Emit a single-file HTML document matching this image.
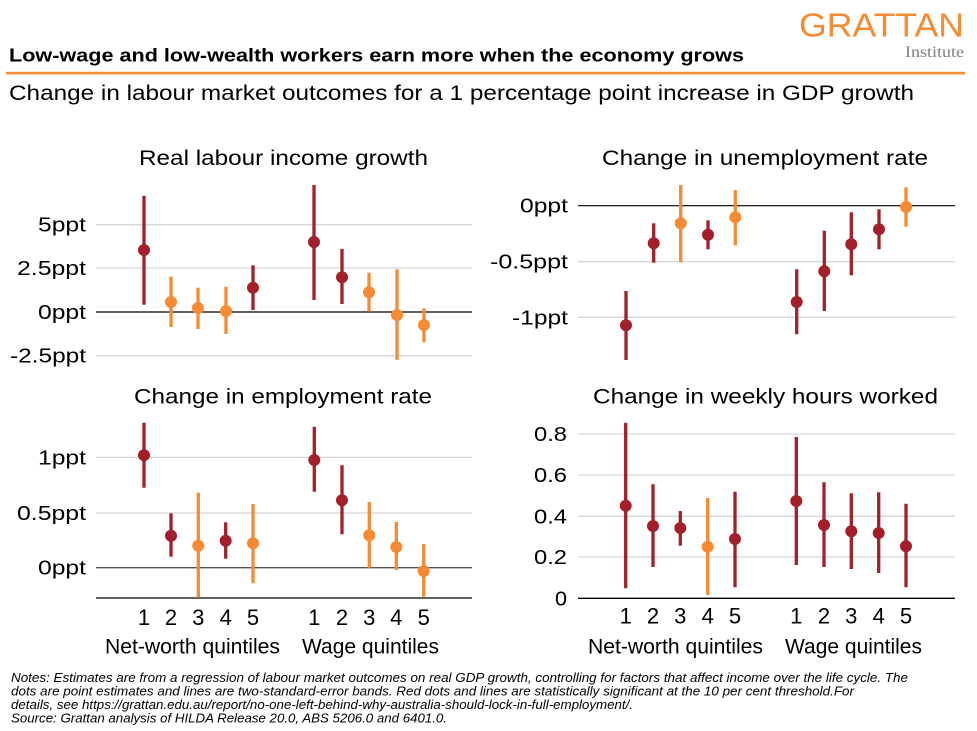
<!DOCTYPE html>
<html>
<head>
<meta charset="utf-8">
<style>
html,body{margin:0;padding:0;background:#fff;}
svg{display:block;}
text{font-family:"Liberation Sans",Arial,sans-serif;fill:#000;}
</style>
</head>
<body>
<svg width="977" height="731" viewBox="0 0 977 731" xmlns="http://www.w3.org/2000/svg">
<rect x="0" y="0" width="977" height="731" fill="#fff"/>

<!-- Header -->
<text x="799" y="36.7" font-size="33" fill="#F68B33" style="fill:#F68B33" textLength="165" lengthAdjust="spacingAndGlyphs">GRATTAN</text>
<text x="905" y="57" font-size="15.5" style="font-family:'Liberation Serif',serif;fill:#7f7f7f" textLength="59" lengthAdjust="spacingAndGlyphs">Institute</text>
<text x="9" y="61.5" font-size="18.5" font-weight="bold" textLength="735" lengthAdjust="spacingAndGlyphs">Low-wage  and low-wealth  workers earn more when the economy grows</text>
<rect x="6" y="71.8" width="959" height="2.6" fill="#F68B33"/>
<text x="9" y="100" font-size="21.5" textLength="905" lengthAdjust="spacingAndGlyphs">Change in labour market outcomes for a 1 percentage point increase in GDP growth</text>

<!-- Panel titles -->
<text x="139" y="165" font-size="21.5" textLength="289" lengthAdjust="spacingAndGlyphs">Real labour income growth</text>
<text x="602" y="165" font-size="21.5" textLength="326" lengthAdjust="spacingAndGlyphs">Change in unemployment rate</text>
<text x="134" y="403.5" font-size="21.5" textLength="298" lengthAdjust="spacingAndGlyphs">Change in employment rate</text>
<text x="593" y="403.5" font-size="21.5" textLength="345" lengthAdjust="spacingAndGlyphs">Change in weekly hours worked</text>

<!-- ============ TOP LEFT ============ -->
<g>
<line x1="96" x2="472" y1="224.7" y2="224.7" stroke="#D3D6DB" stroke-width="1.3"/>
<line x1="96" x2="472" y1="268" y2="268" stroke="#D3D6DB" stroke-width="1.3"/>
<line x1="96" x2="472" y1="355.7" y2="355.7" stroke="#D3D6DB" stroke-width="1.3"/>
<line x1="96" x2="472" y1="312" y2="312" stroke="#000" stroke-width="1.2"/>
<text x="86" y="231.7" font-size="20" text-anchor="end" textLength="48" lengthAdjust="spacingAndGlyphs">5ppt</text>
<text x="86" y="275" font-size="20" text-anchor="end" textLength="69" lengthAdjust="spacingAndGlyphs">2.5ppt</text>
<text x="86" y="319" font-size="20" text-anchor="end" textLength="48" lengthAdjust="spacingAndGlyphs">0ppt</text>
<text x="86" y="362.7" font-size="20" text-anchor="end" textLength="76" lengthAdjust="spacingAndGlyphs">-2.5ppt</text>
</g>
<g stroke-width="3.3">
<line x1="144" x2="144" y1="195.7" y2="304.7" stroke="#A3202A"/><circle cx="144" cy="250" r="6" fill="#A3202A"/>
<line x1="171" x2="171" y1="276.7" y2="327" stroke="#F68B33"/><circle cx="171" cy="302" r="6" fill="#F68B33"/>
<line x1="198" x2="198" y1="287.7" y2="329" stroke="#F68B33"/><circle cx="198" cy="308" r="6" fill="#F68B33"/>
<line x1="226" x2="226" y1="286.7" y2="334" stroke="#F68B33"/><circle cx="226" cy="311" r="6" fill="#F68B33"/>
<line x1="253" x2="253" y1="265.3" y2="310" stroke="#A3202A"/><circle cx="253" cy="287.7" r="6" fill="#A3202A"/>
<line x1="314" x2="314" y1="185" y2="300" stroke="#A3202A"/><circle cx="314" cy="242" r="6" fill="#A3202A"/>
<line x1="342" x2="342" y1="249" y2="304" stroke="#A3202A"/><circle cx="342" cy="277.3" r="6" fill="#A3202A"/>
<line x1="369" x2="369" y1="272.7" y2="311.7" stroke="#F68B33"/><circle cx="369" cy="292.3" r="6" fill="#F68B33"/>
<line x1="397" x2="397" y1="269.3" y2="359.7" stroke="#F68B33"/><circle cx="397" cy="315" r="6" fill="#F68B33"/>
<line x1="424" x2="424" y1="308.3" y2="342.3" stroke="#F68B33"/><circle cx="424" cy="325" r="6" fill="#F68B33"/>
</g>

<!-- ============ TOP RIGHT ============ -->
<g>
<line x1="578" x2="955" y1="261.7" y2="261.7" stroke="#D3D6DB" stroke-width="1.3"/>
<line x1="578" x2="955" y1="317.3" y2="317.3" stroke="#D3D6DB" stroke-width="1.3"/>
<line x1="578" x2="955" y1="205.7" y2="205.7" stroke="#000" stroke-width="1.2"/>
<text x="568" y="212.7" font-size="20" text-anchor="end" textLength="48" lengthAdjust="spacingAndGlyphs">0ppt</text>
<text x="568" y="268.7" font-size="20" text-anchor="end" textLength="78" lengthAdjust="spacingAndGlyphs">-0.5ppt</text>
<text x="568" y="324.3" font-size="20" text-anchor="end" textLength="56" lengthAdjust="spacingAndGlyphs">-1ppt</text>
</g>
<g stroke-width="3.3">
<line x1="626" x2="626" y1="291" y2="360" stroke="#A3202A"/><circle cx="626" cy="325.3" r="6" fill="#A3202A"/>
<line x1="653.7" x2="653.7" y1="223.3" y2="262.7" stroke="#A3202A"/><circle cx="653.7" cy="243.3" r="6" fill="#A3202A"/>
<line x1="680.7" x2="680.7" y1="185" y2="262.3" stroke="#F68B33"/><circle cx="680.7" cy="223.3" r="6" fill="#F68B33"/>
<line x1="708" x2="708" y1="220.3" y2="249.3" stroke="#A3202A"/><circle cx="708" cy="234.7" r="6" fill="#A3202A"/>
<line x1="735.3" x2="735.3" y1="190" y2="245.3" stroke="#F68B33"/><circle cx="735.3" cy="217.3" r="6" fill="#F68B33"/>
<line x1="796.7" x2="796.7" y1="269.3" y2="334.3" stroke="#A3202A"/><circle cx="796.7" cy="302" r="6" fill="#A3202A"/>
<line x1="824.3" x2="824.3" y1="230.7" y2="311" stroke="#A3202A"/><circle cx="824.3" cy="271.3" r="6" fill="#A3202A"/>
<line x1="851.3" x2="851.3" y1="212.3" y2="275.3" stroke="#A3202A"/><circle cx="851.3" cy="244.3" r="6" fill="#A3202A"/>
<line x1="879" x2="879" y1="209.3" y2="249.3" stroke="#A3202A"/><circle cx="879" cy="229.3" r="6" fill="#A3202A"/>
<line x1="906" x2="906" y1="187.3" y2="226.7" stroke="#F68B33"/><circle cx="906" cy="207" r="6" fill="#F68B33"/>
</g>

<!-- ============ BOTTOM LEFT ============ -->
<g>
<line x1="96" x2="472" y1="457.3" y2="457.3" stroke="#D3D6DB" stroke-width="1.3"/>
<line x1="96" x2="472" y1="513" y2="513" stroke="#D3D6DB" stroke-width="1.3"/>
<line x1="96" x2="472" y1="567.7" y2="567.7" stroke="#555" stroke-width="1.3"/>
<line x1="96" x2="472" y1="598" y2="598" stroke="#000" stroke-width="1.3"/>
<text x="86" y="464.5" font-size="20" text-anchor="end" textLength="48" lengthAdjust="spacingAndGlyphs">1ppt</text>
<text x="86" y="520" font-size="20" text-anchor="end" textLength="69" lengthAdjust="spacingAndGlyphs">0.5ppt</text>
<text x="86" y="574.7" font-size="20" text-anchor="end" textLength="48" lengthAdjust="spacingAndGlyphs">0ppt</text>
</g>
<g stroke-width="3.3">
<line x1="144" x2="144" y1="422.7" y2="487.7" stroke="#A3202A"/><circle cx="144" cy="455.3" r="6" fill="#A3202A"/>
<line x1="171" x2="171" y1="513.3" y2="556.7" stroke="#A3202A"/><circle cx="171" cy="535.7" r="6" fill="#A3202A"/>
<line x1="198.3" x2="198.3" y1="492.7" y2="597.7" stroke="#F68B33"/><circle cx="198.3" cy="545.7" r="6" fill="#F68B33"/>
<line x1="225.7" x2="225.7" y1="522.3" y2="558.7" stroke="#A3202A"/><circle cx="225.7" cy="540.7" r="6" fill="#A3202A"/>
<line x1="253" x2="253" y1="504" y2="583.3" stroke="#F68B33"/><circle cx="253" cy="543.3" r="6" fill="#F68B33"/>
<line x1="314.3" x2="314.3" y1="426.7" y2="491.7" stroke="#A3202A"/><circle cx="314.3" cy="460" r="6" fill="#A3202A"/>
<line x1="342" x2="342" y1="465.3" y2="534.3" stroke="#A3202A"/><circle cx="342" cy="500.3" r="6" fill="#A3202A"/>
<line x1="369.3" x2="369.3" y1="502" y2="567.7" stroke="#F68B33"/><circle cx="369.3" cy="535.3" r="6" fill="#F68B33"/>
<line x1="396.3" x2="396.3" y1="522" y2="570" stroke="#F68B33"/><circle cx="396.3" cy="547" r="6" fill="#F68B33"/>
<line x1="423.7" x2="423.7" y1="544" y2="596.7" stroke="#F68B33"/><circle cx="423.7" cy="571" r="6" fill="#F68B33"/>
</g>
<g font-size="22" text-anchor="middle">
<text x="144" y="625">1</text><text x="171" y="625">2</text><text x="198.3" y="625">3</text><text x="225.7" y="625">4</text><text x="253" y="625">5</text>
<text x="314.3" y="625">1</text><text x="342" y="625">2</text><text x="369.3" y="625">3</text><text x="396.3" y="625">4</text><text x="423.7" y="625">5</text>
</g>
<text x="105" y="653.3" font-size="21" textLength="175" lengthAdjust="spacingAndGlyphs">Net-worth  quintiles</text>
<text x="302" y="653.3" font-size="21" textLength="137" lengthAdjust="spacingAndGlyphs">Wage quintiles</text>

<!-- ============ BOTTOM RIGHT ============ -->
<g>
<line x1="578" x2="955" y1="434" y2="434" stroke="#D3D6DB" stroke-width="1.3"/>
<line x1="578" x2="955" y1="475" y2="475" stroke="#D3D6DB" stroke-width="1.3"/>
<line x1="578" x2="955" y1="516.3" y2="516.3" stroke="#D3D6DB" stroke-width="1.3"/>
<line x1="578" x2="955" y1="557" y2="557" stroke="#D3D6DB" stroke-width="1.3"/>
<line x1="578" x2="955" y1="598.3" y2="598.3" stroke="#000" stroke-width="1.3"/>
<text x="567" y="441" font-size="20" text-anchor="end" textLength="33" lengthAdjust="spacingAndGlyphs">0.8</text>
<text x="567" y="482" font-size="20" text-anchor="end" textLength="33" lengthAdjust="spacingAndGlyphs">0.6</text>
<text x="567" y="523.3" font-size="20" text-anchor="end" textLength="33" lengthAdjust="spacingAndGlyphs">0.4</text>
<text x="567" y="564" font-size="20" text-anchor="end" textLength="33" lengthAdjust="spacingAndGlyphs">0.2</text>
<text x="567" y="605.3" font-size="20" text-anchor="end" textLength="12" lengthAdjust="spacingAndGlyphs">0</text>
</g>
<g stroke-width="3.3">
<line x1="625.7" x2="625.7" y1="422.7" y2="588.3" stroke="#A3202A"/><circle cx="625.7" cy="505.7" r="6" fill="#A3202A"/>
<line x1="653" x2="653" y1="484.3" y2="567" stroke="#A3202A"/><circle cx="653" cy="526" r="6" fill="#A3202A"/>
<line x1="680.3" x2="680.3" y1="511" y2="545.7" stroke="#A3202A"/><circle cx="680.3" cy="528" r="6" fill="#A3202A"/>
<line x1="707.7" x2="707.7" y1="498" y2="595" stroke="#F68B33"/><circle cx="707.7" cy="546.7" r="6" fill="#F68B33"/>
<line x1="735" x2="735" y1="491.7" y2="587.3" stroke="#A3202A"/><circle cx="735" cy="539" r="6" fill="#A3202A"/>
<line x1="796.3" x2="796.3" y1="437" y2="565" stroke="#A3202A"/><circle cx="796.3" cy="501" r="6" fill="#A3202A"/>
<line x1="824" x2="824" y1="482.3" y2="567" stroke="#A3202A"/><circle cx="824" cy="525" r="6" fill="#A3202A"/>
<line x1="851.3" x2="851.3" y1="493.3" y2="569" stroke="#A3202A"/><circle cx="851.3" cy="531.3" r="6" fill="#A3202A"/>
<line x1="878.7" x2="878.7" y1="492.3" y2="573" stroke="#A3202A"/><circle cx="878.7" cy="533" r="6" fill="#A3202A"/>
<line x1="906" x2="906" y1="503.7" y2="587.3" stroke="#A3202A"/><circle cx="906" cy="546.3" r="6" fill="#A3202A"/>
</g>
<g font-size="22" text-anchor="middle">
<text x="625.7" y="623.5">1</text><text x="653" y="623.5">2</text><text x="680.3" y="623.5">3</text><text x="707.7" y="623.5">4</text><text x="735" y="623.5">5</text>
<text x="796.3" y="623.5">1</text><text x="824" y="623.5">2</text><text x="851.3" y="623.5">3</text><text x="878.7" y="623.5">4</text><text x="906" y="623.5">5</text>
</g>
<text x="588" y="653.3" font-size="21" textLength="175" lengthAdjust="spacingAndGlyphs">Net-worth  quintiles</text>
<text x="785" y="653.3" font-size="21" textLength="137" lengthAdjust="spacingAndGlyphs">Wage quintiles</text>

<!-- Notes -->
<g font-size="12.5" font-style="italic" fill="#111">
<text x="11" y="682" textLength="897" lengthAdjust="spacingAndGlyphs">Notes: Estimates are from a regression  of labour market outcomes on real GDP growth,  controlling for factors that affect income over  the life cycle. The</text>
<text x="11" y="695.5" textLength="843" lengthAdjust="spacingAndGlyphs">dots are point estimates and lines are two-standard-error  bands. Red dots and lines are statistically significant at the 10 per cent threshold.For</text>
<text x="11" y="709" textLength="622" lengthAdjust="spacingAndGlyphs">details, see https://grattan.edu.au/report/no-one-left-behind-why-australia-should-lock-in-full-employment/.</text>
<text x="11" y="722.5" textLength="436" lengthAdjust="spacingAndGlyphs">Source: Grattan analysis of HILDA Release  20.0, ABS 5206.0 and 6401.0.</text>
</g>
</svg>
</body>
</html>
